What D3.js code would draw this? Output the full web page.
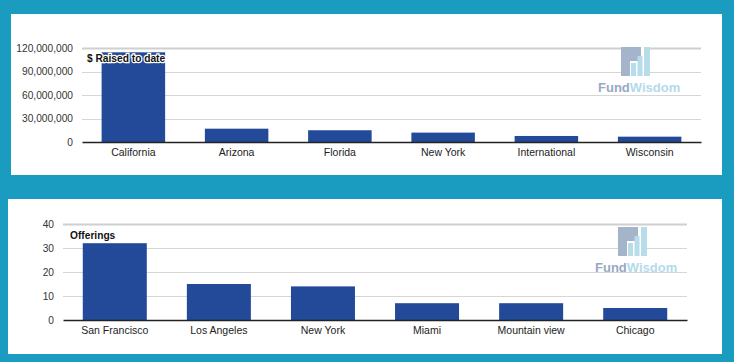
<!DOCTYPE html>
<html><head><meta charset="utf-8">
<script src="https://cdn.jsdelivr.net/npm/d3@7"></script>
<style>body{margin:0;background:#1a9bc0;} svg{display:block;} text{font-family:"Liberation Sans",Arial,sans-serif;}</style>
</head><body>
<svg id="c" width="734" height="362"></svg>
<script>
const states = ["California","Arizona","Florida","New York","International","Wisconsin"];
const raised = [114500000,17000000,15000000,12000000,7700000,6800000];
const raisedTicks = [0,30000000,60000000,90000000,120000000];
const cities = ["San Francisco","Los Angeles","New York","Miami","Mountain view","Chicago"];
const offerings = [32,15,14,7,7,5];
const offeringTicks = [0,10,20,30,40];

const svg = d3.select("#c");
svg.append("rect").attr("width",734).attr("height",362).attr("fill","#1a9bc0");

function panel(cfg){
  svg.append("rect").attr("x",cfg.px).attr("y",cfg.py).attr("width",cfg.pw).attr("height",cfg.ph).attr("fill","#fff");
  const x = d3.scaleBand().domain(cfg.cats).range([cfg.x0,cfg.x1]).paddingInner(0.385).paddingOuter(0.19);
  const y = d3.scaleLinear().domain([0,cfg.max]).range([cfg.y0,cfg.yTop]);
  const g = svg.append("g");
  g.selectAll("line.grid").data(cfg.ticks.filter(t=>t>0)).join("line")
    .attr("x1",cfg.x0).attr("x2",cfg.x1)
    .attr("y1",d=>Math.round(y(d))+0.5).attr("y2",d=>Math.round(y(d))+0.5)
    .attr("stroke",d=>d===cfg.max?"#cfcfcf":"#d6d6d6").attr("stroke-width",d=>d===cfg.max?2:1);
  g.selectAll("rect.bar").data(cfg.vals).join("rect")
    .attr("x",(d,i)=>x(cfg.cats[i])).attr("width",x.bandwidth())
    .attr("y",d=>y(d)).attr("height",d=>cfg.y0-y(d)).attr("fill","#224a99");
  const ya = d3.axisLeft(y).tickValues(cfg.ticks).tickSize(0).tickPadding(0).tickFormat(cfg.fmt);
  const yg = g.append("g").attr("transform",`translate(${cfg.labX},0)`).call(ya);
  yg.select(".domain").remove();
  yg.selectAll("text").attr("font-size",10.2).attr("fill","#333").attr("font-family","Liberation Sans, Arial, sans-serif");
  const xa = d3.axisBottom(x).tickSize(0).tickPadding(7);
  const xg = g.append("g").attr("transform",`translate(0,${cfg.y0})`).call(xa);
  xg.select(".domain").attr("stroke","#222").attr("stroke-width",1.3);
  xg.selectAll("text").attr("font-size",10.5).attr("fill","#222").attr("font-family","Liberation Sans, Arial, sans-serif");
  g.append("text").attr("x",cfg.tx).attr("y",cfg.ty).text(cfg.title)
    .attr("font-size",10.2).attr("font-weight","bold").attr("fill","#111")
    .attr("stroke","#fff").attr("stroke-width",2.5).attr("paint-order","stroke");
  const lx = cfg.lx, ly = cfg.ly;
  const lg = svg.append("g").attr("transform",`translate(${lx},${ly})`);
  lg.append("rect").attr("x",0).attr("y",0).attr("width",29).attr("height",29).attr("fill","#a3b4cb");
  lg.append("rect").attr("x",9).attr("y",14).attr("width",20).attr("height",15).attr("fill","#fff");
  lg.append("rect").attr("x",20).attr("y",0).attr("width",9).attr("height",14).attr("fill","#fff");
  lg.append("rect").attr("x",10).attr("y",16).attr("width",5).attr("height",13).attr("fill","#b7dcea");
  lg.append("rect").attr("x",16.5).attr("y",9).attr("width",5).attr("height",20).attr("fill","#b7dcea");
  lg.append("rect").attr("x",23).attr("y",0).attr("width",6).attr("height",29).attr("fill","#b7dcea");
  const t = svg.append("text").attr("x",lx-23).attr("y",ly+45).attr("font-size",13).attr("font-weight","bold")
    .attr("font-family","Liberation Sans, Arial, sans-serif");
  t.append("tspan").text("Fund").attr("fill","#97a9c4");
  t.append("tspan").text("Wisdom").attr("fill","#b3dbea");
}

panel({px:11,py:14,pw:711,ph:161,cats:states,vals:raised,ticks:raisedTicks,max:120000000,
  x0:82,x1:701,y0:142,yTop:48,labX:73,fmt:d3.format(","),
  title:"$ Raised to date",tx:87,ty:62,lx:621,ly:47});
panel({px:8,py:199,pw:714,ph:155,cats:cities,vals:offerings,ticks:offeringTicks,max:40,
  x0:63,x1:687,y0:320,yTop:224,labX:54,fmt:d3.format("d"),
  title:"Offerings",tx:70,ty:238.5,lx:618,ly:227});
</script>
</body></html>
